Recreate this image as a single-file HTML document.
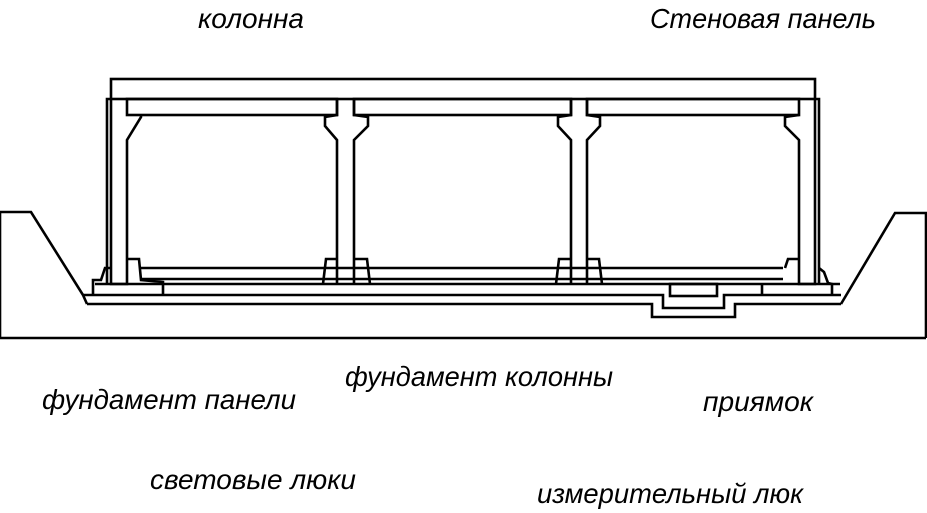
<!DOCTYPE html>
<html><head><meta charset="utf-8"><style>
html,body{margin:0;padding:0;background:#fff;}
svg{display:block}
text{font-family:"Liberation Sans",sans-serif;font-style:italic;font-size:28px;fill:#000}
</style></head><body>
<svg width="927" height="513" viewBox="0 0 927 513" xmlns="http://www.w3.org/2000/svg">
<g fill="none" stroke="#000" stroke-width="2.6" stroke-linejoin="miter">
<rect x="111" y="79" width="704" height="20"/>
<polyline points="107,284 107,99 111,99"/>
<polyline points="815,99 819,99 819,284"/>
<rect x="127" y="99" width="210" height="16"/>
<rect x="354" y="99" width="217" height="16"/>
<rect x="587" y="99" width="212" height="16"/>
<polyline points="111,99 111,284 127,284 127,140 141,117 141,115"/>
<polyline points="337,99 337,115 325,117 325,126 337,140 337,284"/>
<polyline points="354,99 354,115 368,117 368,126 354,140 354,284"/>
<polyline points="571,99 571,115 558,117 558,126 571,140 571,284"/>
<polyline points="587,99 587,115 600,117 600,126 587,140 587,284"/>
<polyline points="799,115 785,117 785,126 799,140 799,284 815,284 815,99"/>
<line x1="141" y1="268" x2="783" y2="268"/>
<line x1="141" y1="279" x2="783" y2="279"/>
<line x1="95" y1="284" x2="840" y2="284"/>
<polyline points="93,295 93,280 101,280 105,268 111,268"/>
<polyline points="127,259 139,259 141,280 163,282 163,295"/>
<polyline points="323,284 326,259 337,259"/>
<polyline points="354,259 367,259 370,284"/>
<polyline points="556,284 559,259 571,259"/>
<polyline points="587,259 599,259 602,284"/>
<polyline points="785,268 788,259 799,259"/>
<polyline points="819,268 824,272 828,283 832,284 832,295"/>
<polyline points="762,284 762,295"/>
<polyline points="83,295 663,295 663,308 724,308 724,295 841,295"/>
<polyline points="87,304 652,304 652,317 735,317 735,304 841,304"/>
<rect x="670" y="284" width="47" height="12"/>
<polyline points="0,338 0,212 31,212 83,295 87,304"/>
<polyline points="926,338 926,213 895,213 841,304"/>
<line x1="0" y1="338" x2="926" y2="338"/>
</g>
<text x="198" y="28" textLength="106" lengthAdjust="spacingAndGlyphs">колонна</text>
<text x="650" y="28" textLength="226" lengthAdjust="spacingAndGlyphs">Стеновая панель</text>
<text x="345" y="386" textLength="268" lengthAdjust="spacingAndGlyphs">фундамент колонны</text>
<text x="42" y="409" textLength="254" lengthAdjust="spacingAndGlyphs">фундамент панели</text>
<text x="703" y="411" textLength="110" lengthAdjust="spacingAndGlyphs">приямок</text>
<text x="150" y="489" textLength="206" lengthAdjust="spacingAndGlyphs">световые люки</text>
<text x="537" y="503" textLength="266" lengthAdjust="spacingAndGlyphs">измерительный люк</text>
</svg>
</body></html>
